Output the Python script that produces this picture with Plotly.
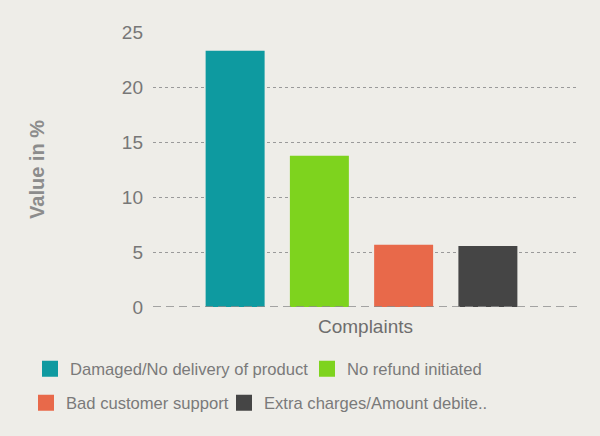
import plotly.graph_objects as go

categories = ["Complaints"]
series_names = [
    "Damaged/No delivery of product",
    "No refund initiated",
    "Bad customer support",
    "Extra charges/Amount debite..",
]
series_values = [23.3, 13.75, 5.67, 5.55]
series_colors = ["#0e9aa0", "#7ed31e", "#e8694a", "#454545"]
y_ticks = [0, 5, 10, 15, 20, 25]

# legend entry placement (container pixels: text start x, row centre y)
legend_ids = ["legend", "legend2", "legend3", "legend4"]
legend_text_x = [67, 344, 63, 261]
legend_row_y = [369, 369, 403, 403]

FONT = "Liberation Sans, Arial, sans-serif"
TXT = "#7a7a7a"
W, H = 600, 436

fig = go.Figure()
for name, val, col in zip(series_names, series_values, series_colors):
    fig.add_trace(go.Bar(
        x=categories, y=[val], name=name, marker_color=col,
        marker_line_width=0, showlegend=False,
    ))
# legend proxies (square swatches)
for name, col, lg in zip(series_names, series_colors, legend_ids):
    fig.add_trace(go.Scatter(
        x=[None], y=[None], mode="markers", name=name, legend=lg,
        marker=dict(symbol="square", size=16, color=col, line=dict(width=0)),
        showlegend=True, hoverinfo="skip",
    ))

legend_layouts = {}
for lg, tx, ty in zip(legend_ids, legend_text_x, legend_row_y):
    legend_layouts[lg] = dict(
        orientation="h", xref="container", yref="container",
        x=(tx - 37) / W, y=1 - ty / H, xanchor="left", yanchor="middle",
        font=dict(family=FONT, size=16.6, color=TXT),
        bgcolor="rgba(0,0,0,0)", borderwidth=0, itemwidth=30,
    )

fig.update_layout(
    width=W, height=H,
    margin=dict(l=153, r=22, t=32, b=128.5, autoexpand=False),
    paper_bgcolor="#eeede8", plot_bgcolor="#eeede8",
    barmode="group", bargap=0.207, bargroupgap=0.30,
    font=dict(family=FONT, color=TXT),
    showlegend=True,
    **legend_layouts,
    xaxis=dict(
        range=[-0.4906, 0.5094], showgrid=False, zeroline=False, showline=False,
        showticklabels=False,
        title=dict(text="Complaints", font=dict(family=FONT, size=19, color="#6e6e6e"), standoff=12),
    ),
    yaxis=dict(
        range=[0, 25], tickvals=y_ticks, showgrid=True, gridcolor="#9a9a9a",
        griddash="3px,3px", gridwidth=1, zeroline=False, showline=False,
        tickfont=dict(family=FONT, size=19, color="#777777"),
        ticklabelstandoff=9,
        title=dict(text="<b>Value in %</b>", font=dict(family=FONT, size=20, color="#8c8c8c"), standoff=71),
    ),
)

fig.add_hline(y=0, line=dict(color="#8a8a8a", width=1.5, dash="8px,5px"), layer="above")

fig.write_html("out.html")
